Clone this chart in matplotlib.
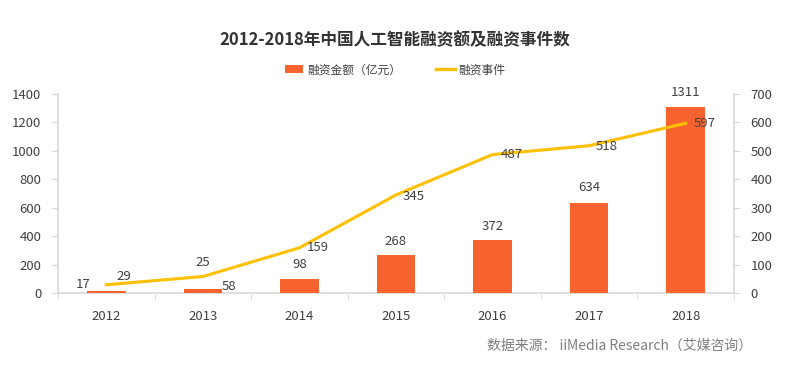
import matplotlib
matplotlib.use('Agg')
import matplotlib.pyplot as plt
from matplotlib.patches import Patch
from matplotlib.lines import Line2D

plt.rcParams['font.family'] = ['Noto Sans CJK SC', 'DejaVu Sans']

years = ['2012', '2013', '2014', '2015', '2016', '2017', '2018']
amount = [17, 25, 98, 268, 372, 634, 1311]       # 融资金额（亿元）
events = [29, 58, 159, 345, 487, 518, 597]        # 融资事件

# label offsets in pixels (hand placed like the original)
amount_off = [(-23, 6), (0, 27), (0, 15), (0, 13), (0, 14), (0, 15), (0, 14)]
events_off = [(18, 8), (26, -10), (18, 0), (18, -2), (19, 0), (18, -1), (19, 0)]

bar_color = '#F7632F'
line_color = '#FFC000'
text_color = '#404040'
spine_color = '#D9D9D9'

fig = plt.figure(figsize=(8, 3.68), dpi=100)
ax = fig.add_axes([0.0725, 0.2038, 0.845, 0.5408])
ax2 = ax.twinx()

x = list(range(len(years)))
ax.bar(x, amount, width=0.4, color=bar_color, zorder=3)
ax2.plot(x, events, color=line_color, lw=2.2, zorder=3)

ax.set_xlim(-0.5, len(years) - 0.5)
ax.set_ylim(0, 1400)
ax2.set_ylim(0, 700)
ax.set_yticks(range(0, 1401, 200))
ax2.set_yticks(range(0, 701, 100))

ax.set_xticks(x)
ax.set_xticklabels(years)
ax.set_xticks([i - 0.5 for i in range(len(years) + 1)], minor=True)
ax.tick_params(axis='x', which='major', length=0, pad=12, labelsize=9.5, colors=text_color)
ax.tick_params(axis='x', which='minor', length=5, color=spine_color)
ax.tick_params(axis='y', length=4, pad=8, labelsize=9.5, colors=text_color, color=spine_color)
ax2.tick_params(axis='y', length=4, pad=8, labelsize=9.5, colors=text_color, color=spine_color)

# left + bottom on ax, right on ax2
for s in ('top', 'right'):
    ax.spines[s].set_visible(False)
for s in ('top', 'left', 'bottom'):
    ax2.spines[s].set_visible(False)
for a, s in ((ax, 'left'), (ax, 'bottom'), (ax2, 'right')):
    a.spines[s].set_color(spine_color)
    a.spines[s].set_linewidth(1.2)

ax.set_zorder(ax2.get_zorder() - 1)
ax2.patch.set_visible(False)

for i, v in enumerate(amount):
    ax.annotate(str(v), (x[i], v), xytext=amount_off[i], textcoords='offset pixels',
                ha='center', va='center', fontsize=9.5, color=text_color)
for i, v in enumerate(events):
    ax2.annotate(str(v), (x[i], v), xytext=events_off[i], textcoords='offset pixels',
                 ha='center', va='center', fontsize=9.5, color=text_color)

fig.text(0.494, 0.891, '2012-2018年中国人工智能融资额及融资事件数', ha='center', va='center',
         fontsize=12, fontweight='bold', color='#333333')

handles = [Patch(facecolor=bar_color, label='融资金额（亿元）'),
           Line2D([0], [0], color=line_color, lw=2.5, label='融资事件')]
fig.legend(handles=handles, loc='center', bbox_to_anchor=(0.494, 0.81), ncol=2, frameon=False,
           fontsize=8.5, handlelength=1.6, handleheight=0.7, columnspacing=3, handletextpad=0.3,
           labelcolor=text_color)

fig.text(0.94, 0.06, '数据来源： iiMedia Research（艾媒咨询）', ha='right', va='center',
         fontsize=10, color='#7F7F7F')

fig.savefig('out.png', dpi=100, facecolor='white')
